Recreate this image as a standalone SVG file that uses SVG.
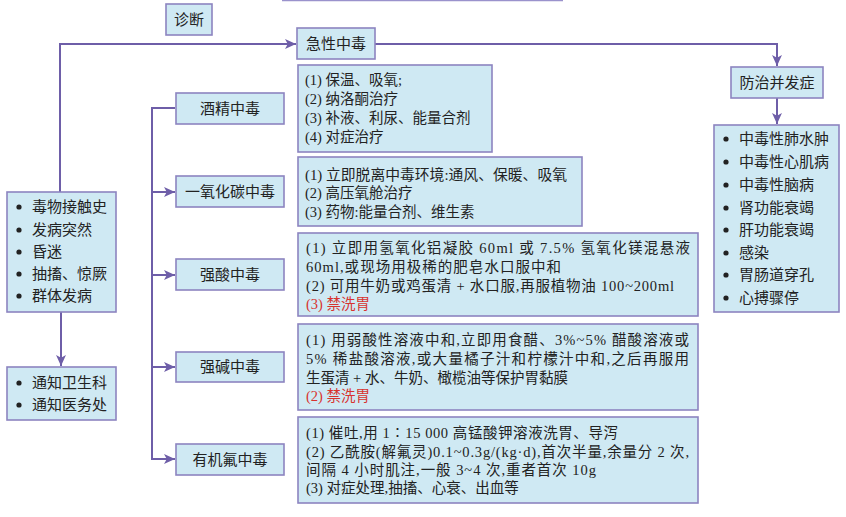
<svg xmlns="http://www.w3.org/2000/svg" width="846" height="517" viewBox="0 0 846 517">
<defs>
<marker id="ah" viewBox="0 0 10 10" refX="10" refY="5" markerWidth="11" markerHeight="11" markerUnits="userSpaceOnUse" orient="auto">
<path d="M0,0.5 L10,5 L0,9.5 L2.5,5 Z" fill="#6e5ea8"/>
</marker>
</defs>
<style>
.box{fill:#cfe9f3;stroke:#8c84c0;stroke-width:1.6}
.lbl{font-family:"Noto Sans CJK SC","Liberation Sans",sans-serif;font-size:15px;fill:#222;text-anchor:middle}
.txt{font-family:"Liberation Serif","Noto Sans CJK SC",serif;font-size:14.5px;fill:#222}
.red{fill:#d8332f}
.dot{fill:#222}
.con{fill:none;stroke:#6e5ea8;stroke-width:2}
</style>
<rect width="846" height="517" fill="#ffffff"/>
<line x1="282" y1="0.5" x2="563" y2="0.5" stroke="#9a92cc" stroke-width="1.6"/>

<g id="connectors">
<path class="con" d="M60,192 V44 H296" marker-end="url(#ah)"/>
<path class="con" d="M375,44 H777 V66" marker-end="url(#ah)"/>
<path class="con" d="M777,98 V124" marker-end="url(#ah)"/>
<path class="con" d="M61,312 V366" marker-end="url(#ah)"/>
<path class="con" d="M175,108 H152 V459 H175" marker-end="url(#ah)"/>
<path class="con" d="M152,192 H175" marker-end="url(#ah)"/>
<path class="con" d="M152,275 H175" marker-end="url(#ah)"/>
<path class="con" d="M152,367 H175" marker-end="url(#ah)"/>
</g>

<g id="diagnosis">
<rect class="box" x="166" y="4" width="46" height="31"/>
<text class="lbl" x="189" y="25">诊断</text>
</g>

<g id="acute">
<rect class="box" x="297" y="28" width="78" height="31"/>
<text class="lbl" x="336" y="49">急性中毒</text>
</g>

<g id="prevent">
<rect class="box" x="731" y="67" width="92" height="31"/>
<text class="lbl" x="777" y="88">防治并发症</text>
</g>

<g id="complications">
<rect class="box" x="714" y="125" width="125" height="187"/>
<g class="dot">
<circle cx="726" cy="139" r="2.6"/><circle cx="726" cy="162" r="2.6"/><circle cx="726" cy="185" r="2.6"/><circle cx="726" cy="208" r="2.6"/>
<circle cx="726" cy="230" r="2.6"/><circle cx="726" cy="253" r="2.6"/><circle cx="726" cy="275" r="2.6"/><circle cx="726" cy="298" r="2.6"/>
</g>
<text class="txt" style="font-family:'Noto Sans CJK SC',sans-serif;font-size:15px">
<tspan x="739" y="144">中毒性肺水肿</tspan>
<tspan x="739" y="167">中毒性心肌病</tspan>
<tspan x="739" y="190">中毒性脑病</tspan>
<tspan x="739" y="213">肾功能衰竭</tspan>
<tspan x="739" y="235">肝功能衰竭</tspan>
<tspan x="739" y="258">感染</tspan>
<tspan x="739" y="280">胃肠道穿孔</tspan>
<tspan x="739" y="303">心搏骤停</tspan>
</text>
</g>

<g id="symptoms">
<rect class="box" x="7" y="192" width="109" height="120"/>
<g class="dot">
<circle cx="19" cy="207" r="2.6"/><circle cx="19" cy="230" r="2.6"/><circle cx="19" cy="252" r="2.6"/><circle cx="19" cy="274" r="2.6"/><circle cx="19" cy="296" r="2.6"/>
</g>
<text class="txt" style="font-family:'Noto Sans CJK SC',sans-serif;font-size:15px">
<tspan x="32" y="212">毒物接触史</tspan>
<tspan x="32" y="235">发病突然</tspan>
<tspan x="32" y="257">昏迷</tspan>
<tspan x="32" y="279">抽搐、惊厥</tspan>
<tspan x="32" y="301">群体发病</tspan>
</text>
</g>

<g id="notify">
<rect class="box" x="7" y="367" width="109" height="53"/>
<g class="dot">
<circle cx="19" cy="383" r="2.6"/><circle cx="19" cy="405" r="2.6"/>
</g>
<text class="txt" style="font-family:'Noto Sans CJK SC',sans-serif;font-size:15px">
<tspan x="32" y="388">通知卫生科</tspan>
<tspan x="32" y="410">通知医务处</tspan>
</text>
</g>

<g id="alcohol">
<rect class="box" x="176" y="93" width="108" height="31"/>
<text class="lbl" x="230" y="114">酒精中毒</text>
</g>
<g id="co">
<rect class="box" x="176" y="176" width="108" height="31"/>
<text class="lbl" x="230" y="197">一氧化碳中毒</text>
</g>
<g id="acid">
<rect class="box" x="176" y="259" width="108" height="31"/>
<text class="lbl" x="230" y="280">强酸中毒</text>
</g>
<g id="alkali">
<rect class="box" x="176" y="352" width="108" height="30"/>
<text class="lbl" x="230" y="372">强碱中毒</text>
</g>
<g id="fluorine">
<rect class="box" x="176" y="444" width="108" height="31"/>
<text class="lbl" x="230" y="465">有机氟中毒</text>
</g>

<g id="t-alcohol">
<rect class="box" x="298" y="65" width="194" height="87"/>
<text class="txt">
<tspan x="305" y="85">(1) 保温、吸氧;</tspan>
<tspan x="305" y="104">(2) 纳洛酮治疗</tspan>
<tspan x="305" y="123">(3) 补液、利尿、能量合剂</tspan>
<tspan x="305" y="142">(4) 对症治疗</tspan>
</text>
</g>

<g id="t-co">
<rect class="box" x="298" y="157" width="284" height="69"/>
<text class="txt" x="305" y="180" textLength="262" lengthAdjust="spacingAndGlyphs">(1) 立即脱离中毒环境:通风、保暖、吸氧</text>
<text class="txt" x="305" y="198">(2) 高压氧舱治疗</text>
<text class="txt" x="305" y="217">(3) 药物:能量合剂、维生素</text>
</g>

<g id="t-acid">
<rect class="box" x="298" y="233" width="400" height="83"/>
<text class="txt" x="306" y="253" textLength="384" lengthAdjust="spacing">(1) 立即用氢氧化铝凝胶 60ml 或 7.5% 氢氧化镁混悬液</text>
<text class="txt" x="306" y="272" textLength="255" lengthAdjust="spacing">60ml,或现场用极稀的肥皂水口服中和</text>
<text class="txt" x="306" y="291" textLength="368" lengthAdjust="spacing">(2) 可用牛奶或鸡蛋清 + 水口服,再服植物油 100~200ml</text>
<text class="txt red" x="306" y="309">(3) 禁洗胃</text>
</g>

<g id="t-alkali">
<rect class="box" x="298" y="324" width="400" height="86"/>
<text class="txt" x="306" y="345" textLength="383" lengthAdjust="spacing">(1) 用弱酸性溶液中和,立即用食醋、3%~5% 醋酸溶液或</text>
<text class="txt" x="306" y="364" textLength="383" lengthAdjust="spacing">5% 稀盐酸溶液,或大量橘子汁和柠檬汁中和,之后再服用</text>
<text class="txt" x="306" y="383">生蛋清 + 水、牛奶、橄榄油等保护胃黏膜</text>
<text class="txt red" x="306" y="401">(2) 禁洗胃</text>
</g>

<g id="t-fluorine">
<rect class="box" x="298" y="417" width="400" height="86"/>
<text class="txt" x="306" y="438" textLength="312" lengthAdjust="spacing">(1) 催吐,用 1∶15 000 高锰酸钾溶液洗胃、导泻</text>
<text class="txt" x="306" y="457" textLength="383" lengthAdjust="spacing">(2) 乙酰胺(解氟灵)0.1~0.3g/(kg·d),首次半量,余量分 2 次,</text>
<text class="txt" x="306" y="475" textLength="290" lengthAdjust="spacing">间隔 4 小时肌注,一般 3~4 次,重者首次 10g</text>
<text class="txt" x="306" y="493">(3) 对症处理,抽搐、心衰、出血等</text>
</g>
</svg>
